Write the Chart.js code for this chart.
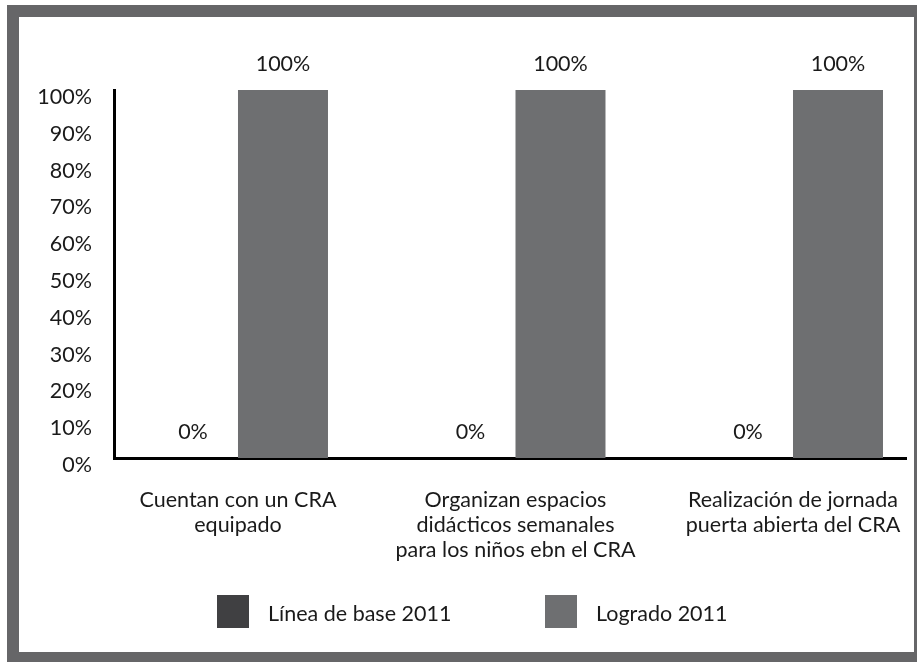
<!DOCTYPE html>
<html><head><meta charset="utf-8">
<script src="https://cdn.jsdelivr.net/npm/chart.js@4/dist/chart.umd.min.js"></script>
<style>
html,body{margin:0;padding:0;background:#fff;overflow:hidden;width:917px;height:662px;}
#frame{position:absolute;left:7px;top:5px;width:895px;height:635px;border:12px solid #666668;background:#fff;}
#wrap{position:relative;width:895px;height:635px;}
#legend{position:absolute;left:198px;top:578px;display:flex;font-family:Lato,sans-serif;font-size:21.5px;color:#1a1a1a;}
#legend .item{display:flex;align-items:center;width:328px;height:33px;}
#legend .box{width:32px;height:33px;margin-right:19px;flex:none;}
#legend .lbl{white-space:nowrap;line-height:33px;position:relative;top:2px;}
</style></head><body>
<div id="frame"><div id="wrap"><canvas id="c" width="895" height="635"></canvas><div id="legend"></div></div></div>
<script>
// ---- data ----
const categories = [
  ["Cuentan con un CRA", "equipado"],
  ["Organizan espacios", "didácticos semanales", "para los niños ebn el CRA"],
  ["Realización de jornada", "puerta abierta del CRA"]
];
const seriesNames = ["Línea de base 2011", "Logrado 2011"];
const lineaBase2011 = [0, 0, 0];
const logrado2011 = [100, 100, 100];
const yTickValues = [0, 10, 20, 30, 40, 50, 60, 70, 80, 90, 100];
const seriesColors = ["#404042", "#6e6f71"];

const FONT = "Lato";
const FS = 21.5;
const TXT = "#1a1a1a";

const toPoints = vals => vals.map((v, i) => ({ x: i, y: v }));

const valueLabels = {
  id: "valueLabels",
  afterDatasetsDraw(chart) {
    const ctx = chart.ctx;
    ctx.save();
    ctx.font = FS + "px " + FONT;
    ctx.fillStyle = TXT;
    ctx.textAlign = "center";
    ctx.textBaseline = "middle";
    chart.data.datasets.forEach((ds, di) => {
      chart.getDatasetMeta(di).data.forEach((el, i) => {
        ctx.fillText(ds.data[i].y + "%", el.x, el.y - 26);
      });
    });
    ctx.restore();
  }
};

const htmlLegend = {
  id: "htmlLegend",
  afterUpdate(chart) {
    const host = document.getElementById("legend");
    host.innerHTML = "";
    const items = chart.options.plugins.legend.labels.generateLabels(chart);
    items.forEach(it => {
      const d = document.createElement("div"); d.className = "item";
      const b = document.createElement("span"); b.className = "box"; b.style.background = it.fillStyle;
      const t = document.createElement("span"); t.className = "lbl"; t.textContent = it.text;
      d.appendChild(b); d.appendChild(t); host.appendChild(d);
    });
  }
};

new Chart(document.getElementById("c"), {
  type: "bar",
  data: {
    datasets: [
      { label: seriesNames[0], data: toPoints(lineaBase2011), backgroundColor: seriesColors[0] },
      { label: seriesNames[1], data: toPoints(logrado2011), backgroundColor: seriesColors[1] }
    ]
  },
  options: {
    responsive: false,
    animation: false,
    events: [],
    categoryPercentage: 0.6486,
    barPercentage: 1,
    layout: { padding: { top: 73, right: 8, bottom: 74, left: 0 } },
    plugins: {
      tooltip: { enabled: false },
      legend: { display: false }
    },
    scales: {
      x: {
        type: "linear", offset: false,
        min: -0.4468, max: 2.4072,
        afterBuildTicks: s => { s.ticks = categories.map((c, i) => ({ value: i })); },
        afterFit: s => { s.height = 120; s.paddingLeft = 0; s.paddingRight = 0; },
        grid: { display: false, drawTicks: false },
        border: { display: true, color: "#000", width: 3 },
        ticks: {
          autoSkip: false, maxRotation: 0, padding: 30,
          color: TXT, font: { family: FONT, size: FS, lineHeight: "25px" },
          callback: v => categories[v]
        }
      },
      y: {
        min: 0, max: 100,
        afterBuildTicks: s => { s.ticks = yTickValues.map(v => ({ value: v })); },
        afterFit: s => { s.width = 95; },
        grid: { display: false, drawTicks: false },
        border: { display: true, color: "#000", width: 3 },
        ticks: {
          padding: 22, labelOffset: 7,
          color: TXT, font: { family: FONT, size: FS },
          callback: v => v + "%"
        }
      }
    }
  },
  plugins: [valueLabels, htmlLegend]
});
</script>
</body></html>
